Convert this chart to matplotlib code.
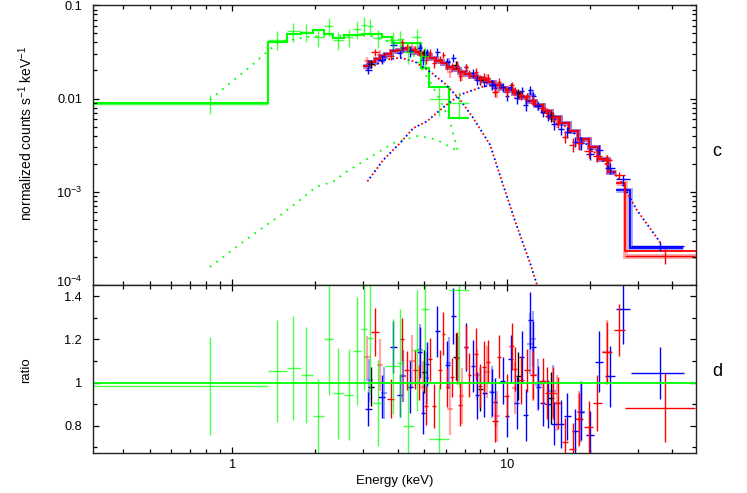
import matplotlib
matplotlib.use("Agg")
import matplotlib.pyplot as plt
import matplotlib.transforms as mtransforms
from matplotlib.ticker import FixedLocator, FixedFormatter, LogLocator, MultipleLocator, NullFormatter

plt.rcParams['font.family'] = ['Liberation Sans', 'DejaVu Sans']
plt.rcParams['mathtext.fontset'] = 'custom'
plt.rcParams['mathtext.rm'] = 'Liberation Sans'
plt.rcParams['mathtext.it'] = 'Liberation Sans'

# ---- soft X-ray instrument (green) ----
g_edges = [0.311, 1.35, 1.575, 1.78, 1.97, 2.16, 2.33, 2.56, 2.97, 3.51, 3.81, 4.86, 5.21, 6.17, 7.29]
g_model = [0.0089, 0.0407, 0.0494, 0.0502, 0.0539, 0.0495, 0.0450, 0.0484, 0.0492, 0.0458, 0.0395, 0.0213, 0.0133, 0.0062]

g_e = [0.829, 1.451, 1.663, 1.855, 2.057, 2.249, 2.432, 2.659, 2.851, 3.024, 3.171, 3.393, 3.84, 4.078, 4.372, 4.692, 5.028, 5.67, 6.70]
g_elo = [0.311, 1.35, 1.575, 1.78, 1.97, 2.16, 2.33, 2.56, 2.76, 2.94, 3.09, 3.25, 3.60, 3.96, 4.18, 4.50, 4.86, 5.21, 6.17]
g_ehi = [1.35, 1.575, 1.78, 1.97, 2.16, 2.33, 2.56, 2.76, 2.94, 3.09, 3.25, 3.52, 4.08, 4.20, 4.58, 4.86, 5.21, 6.17, 7.29]
g_flux = [0.00877, 0.0429, 0.0527, 0.0520, 0.0454, 0.0594, 0.0428, 0.0456, 0.0555, 0.0613, 0.0593, 0.0445,
          0.0425, 0.0431, 0.0316, 0.0454, 0.0285, 0.00984, 0.00887]
g_ferr = [0.00202, 0.0096, 0.0119, 0.0111, 0.0094, 0.0129, 0.0095, 0.0102, 0.0121, 0.0138, 0.0128, 0.0098,
          0.0087, 0.0099, 0.0079, 0.0110, 0.0075, 0.0033, 0.0028]
g_ratio = [0.985, 1.054, 1.067, 1.036, 0.843, 1.20, 0.951, 0.943, 1.147, 1.247, 1.205, 0.905, 1.075, 1.09,
           0.80, 1.15, 1.34, 0.74, 1.43]
g_rerr = [0.227, 0.237, 0.24, 0.222, 0.175, 0.26, 0.21, 0.21, 0.25, 0.28, 0.26, 0.20, 0.22, 0.25, 0.20,
          0.28, 0.35, 0.25, 0.45]

# green model components (dotted)
g_comp1_e = [0.829, 1.160, 1.479, 1.918, 2.466, 3.171, 3.912, 4.436, 4.824, 5.245, 5.703, 6.201, 6.630]
g_comp1_f = [0.00971, 0.02196, 0.0407, 0.0461, 0.0473, 0.0473, 0.0388, 0.0334, 0.0225, 0.01515, 0.00971, 0.00563, 0.00268]
g_comp2_e = [0.829, 1.160, 1.533, 2.029, 2.332, 2.609, 3.355, 3.857, 4.755, 5.548, 6.745]
g_comp2_f = [0.000156, 0.00033, 0.000589, 0.001137, 0.001287, 0.001648, 0.0026, 0.00333, 0.00399, 0.00361, 0.00266]

# ---- hard X-ray instruments (red / blue / black) ----
nu_edges = [3.0, 3.15, 3.3, 3.45, 3.6, 3.78, 3.96, 4.15, 4.35, 4.56, 4.78, 5.0, 5.25, 5.5, 5.78, 6.06, 6.36,
            6.68, 7.0, 7.35, 7.72, 8.1, 8.5, 8.95, 9.4, 9.9, 10.5, 11.1, 11.8, 12.6, 13.5, 14.5, 15.6, 16.8,
            18.2, 19.8, 21.5, 23.3, 25.0]
nu_model = [0.0225, 0.0244, 0.0263, 0.0284, 0.0303, 0.0321, 0.0332, 0.0337, 0.0328, 0.0318, 0.0305, 0.0287,
            0.0270, 0.0255, 0.0239, 0.0220, 0.0205, 0.0193, 0.0183, 0.0174, 0.0165, 0.0157, 0.0149, 0.0140,
            0.0131, 0.0122, 0.0114, 0.0104, 0.00948, 0.00845, 0.0074, 0.00637, 0.00543, 0.00454, 0.00372,
            0.00305, 0.00222, 0.00162]
red_tail_edges = [25.0, 26.9, 48.6]
red_tail_model = [0.00125, 0.000233]
pink_tail_model = [0.00125, 0.000205]
blue_tail_edges = [25.0, 28.0, 43.8]
blue_tail_model = [0.00104, 0.000248]

red_e = [3.31, 3.77, 4.14, 4.31, 4.63, 4.80, 5.06, 5.25, 5.42, 5.70, 5.87, 6.07, 6.29, 6.56, 6.74, 7.09, 7.29,
         7.73, 7.98, 8.25, 8.55, 9.05, 9.38, 9.97, 10.40, 10.67, 11.25, 11.79, 12.40, 13.49, 14.03, 14.67,
         15.38, 16.27, 17.34, 18.34, 19.83, 21.33, 23.20, 25.64, 37.6]
red_xerr = [0.10, 0.12, 0.08, 0.09, 0.10, 0.08, 0.09, 0.09, 0.09, 0.10, 0.09, 0.10, 0.10, 0.12, 0.10, 0.13, 0.10,
            0.14, 0.12, 0.14, 0.15, 0.20, 0.16, 0.22, 0.20, 0.18, 0.28, 0.30, 0.30, 0.40, 0.30, 0.35, 0.40,
            0.45, 0.50, 0.50, 0.70, 0.80, 1.00, 1.20, 10.7]
red_flux = [0.0315, 0.0288, 0.0403, 0.0353, 0.0340, 0.0309, 0.0260, 0.0309, 0.0239, 0.0266, 0.0294, 0.0223,
            0.0220, 0.0226, 0.0176, 0.0216, 0.0186, 0.0191, 0.0161, 0.0170, 0.0167, 0.0117, 0.0152, 0.0118,
            0.0139, 0.01224, 0.01085, 0.01056, 0.00955, 0.00798, 0.0070, 0.0064, 0.00551, 0.00391, 0.00321,
            0.0033, 0.00272, 0.00244, 0.00219, 0.00150, 0.000206]
red_ferr = [0.0028, 0.0028, 0.0034, 0.0030, 0.0029, 0.0025, 0.0026, 0.0028, 0.0027, 0.0023, 0.0024, 0.0021,
            0.0019, 0.0024, 0.0020, 0.0019, 0.0018, 0.0020, 0.0016, 0.0019, 0.0015, 0.0014, 0.0014, 0.0013,
            0.0013, 0.0012, 0.0012, 0.0010, 0.0010, 0.00087, 0.00088, 0.00081, 0.00073, 0.00059, 0.00056,
            0.00048, 0.00041, 0.00035, 0.00027, 0.00014, 0.000037]
red_ratio = [1.233, 0.924, 1.20, 1.056, 1.059, 1.00, 0.892, 1.108, 0.892, 1.059, 1.225, 0.978, 1.025, 1.113,
             0.897, 1.164, 1.035, 1.133, 0.985, 1.071, 1.097, 0.824, 1.12, 0.938, 1.167, 1.062, 1.012, 1.056,
             1.035, 1.005, 0.951, 0.951, 0.907, 0.724, 0.691, 0.83, 0.793, 0.904, 1.139, 1.244, 0.884]
red_rerr = [0.11, 0.09, 0.10, 0.09, 0.09, 0.08, 0.09, 0.10, 0.10, 0.09, 0.10, 0.09, 0.09, 0.12, 0.10, 0.10, 0.10,
            0.12, 0.10, 0.12, 0.10, 0.10, 0.10, 0.10, 0.11, 0.10, 0.11, 0.10, 0.11, 0.11, 0.12, 0.12, 0.12,
            0.11, 0.12, 0.12, 0.12, 0.13, 0.14, 0.12, 0.16]

blue_e = [3.13, 3.50, 3.86, 4.06, 4.44, 4.82, 4.96, 5.10, 5.58, 6.07, 6.38, 6.56, 7.09, 7.50, 7.76, 8.27, 8.80,
          9.05, 9.65, 9.97, 10.31, 10.84, 11.31, 11.69, 12.13, 12.47, 13.00, 13.49, 14.14, 14.87, 15.73,
          16.59, 17.68, 18.60, 20.05, 21.63, 23.71, 26.51, 36.06]
blue_xerr = [0.09, 0.10, 0.10, 0.09, 0.10, 0.10, 0.08, 0.09, 0.12, 0.12, 0.12, 0.10, 0.14, 0.12, 0.13, 0.15,
             0.15, 0.15, 0.20, 0.18, 0.20, 0.25, 0.22, 0.25, 0.25, 0.25, 0.30, 0.30, 0.35, 0.40, 0.40, 0.45,
             0.50, 0.50, 0.70, 0.80, 1.00, 1.50, 7.9]
blue_flux = [0.02037, 0.02623, 0.03724, 0.03106, 0.03224, 0.03504, 0.02565, 0.03132, 0.03191, 0.02464,
             0.02748, 0.02262, 0.02157, 0.01885, 0.01586, 0.01509, 0.01404, 0.01293, 0.01321, 0.01065,
             0.01335, 0.01022, 0.01192, 0.00862, 0.01229, 0.01064, 0.00832, 0.0072, 0.00652, 0.00529,
             0.00469, 0.00438, 0.00343, 0.00334, 0.00255, 0.00281, 0.0018, 0.00137, 0.000259]
blue_ferr = [0.0019, 0.0028, 0.0038, 0.0033, 0.0040, 0.0037, 0.0030, 0.0029, 0.0031, 0.0025, 0.0027, 0.0020,
             0.0020, 0.0021, 0.0019, 0.0017, 0.0016, 0.0016, 0.0014, 0.0013, 0.0013, 0.0014, 0.0013, 0.0012,
             0.0012, 0.0011, 0.00085, 0.00087, 0.0008, 0.00065, 0.00064, 0.00057, 0.00044, 0.0005, 0.00037,
             0.00036, 0.00025, 0.00016, 0.00003]
blue_ratio = [0.877, 0.935, 1.164, 0.94, 0.978, 1.139, 0.861, 1.086, 1.236, 1.083, 1.306, 1.113, 1.164, 1.077,
              0.94, 0.952, 0.954, 0.909, 1.009, 0.846, 1.108, 0.907, 1.12, 0.85, 1.287, 1.164, 0.978, 0.907,
              0.90, 0.81, 0.808, 0.843, 0.776, 0.866, 0.758, 1.097, 1.028, 1.34, 1.043]
blue_rerr = [0.08, 0.10, 0.12, 0.10, 0.12, 0.12, 0.10, 0.10, 0.12, 0.11, 0.13, 0.10, 0.11, 0.12, 0.11, 0.11,
             0.11, 0.11, 0.11, 0.10, 0.11, 0.12, 0.12, 0.12, 0.13, 0.12, 0.10, 0.11, 0.11, 0.10, 0.11, 0.11,
             0.10, 0.13, 0.11, 0.14, 0.14, 0.16, 0.12]

pink_e = [3.10, 3.45, 4.17, 4.50, 4.96, 6.20, 6.84, 7.76, 8.44, 9.17, 10.69, 12.47, 15.16, 18.34, 23.2]
pink_xerr = [0.09, 0.10, 0.10, 0.12, 0.12, 0.14, 0.15, 0.18, 0.2, 0.22, 0.28, 0.35, 0.45, 0.6, 1.0]
pink_flux = [0.02551, 0.02958, 0.03474, 0.036, 0.02919, 0.01928, 0.01808, 0.01749, 0.01622, 0.0118, 0.0112,
             0.00946, 0.00569, 0.0033, 0.00219]
pink_ferr = [0.0023, 0.0033, 0.0040, 0.0039, 0.0036, 0.0026, 0.0025, 0.0020, 0.0019, 0.0017, 0.0014, 0.0011,
             0.0008, 0.0005, 0.0003]
pink_ratio = [1.116, 1.079, 1.03, 1.10, 0.98, 0.877, 0.938, 1.037, 1.05, 0.843, 0.974, 1.035, 0.907, 0.83, 1.139]
pink_rerr = [0.10, 0.12, 0.12, 0.12, 0.12, 0.12, 0.13, 0.12, 0.12, 0.12, 0.12, 0.12, 0.13, 0.13, 0.15]

lblue_e = [3.15, 3.57, 4.17, 4.82, 5.10, 6.13, 8.80, 12.13, 12.47, 13.0, 14.67, 18.6]
lblue_xerr = [0.09, 0.10, 0.10, 0.12, 0.12, 0.14, 0.2, 0.3, 0.3, 0.35, 0.4, 0.6]
lblue_flux = [0.02368, 0.02765, 0.03474, 0.03537, 0.02942, 0.0244, 0.01406, 0.01127, 0.01097, 0.00842, 0.00646, 0.00333]
lblue_ferr = [0.0023, 0.0035, 0.0040, 0.0037, 0.0035, 0.0027, 0.0018, 0.0013, 0.0012, 0.0010, 0.0008, 0.0005]
lblue_ratio = [1.01, 0.95, 1.03, 1.15, 1.02, 1.09, 0.955, 1.18, 1.20, 0.99, 0.96, 0.866]
lblue_rerr = [0.10, 0.12, 0.12, 0.12, 0.12, 0.12, 0.12, 0.14, 0.13, 0.12, 0.12, 0.14]

black_e = [3.20, 5.00, 6.50, 8.00, 11.0, 14.5]
black_xerr = [0.08, 0.10, 0.12, 0.15, 0.25, 0.35]
black_flux = [0.0236, 0.031, 0.0230, 0.01584, 0.0114, 0.0064]
black_ferr = [0.0022, 0.0030, 0.0022, 0.0017, 0.0012, 0.0008]
black_ratio = [0.98, 1.05, 1.12, 0.97, 1.03, 0.93]
black_rerr = [0.09, 0.10, 0.11, 0.10, 0.11, 0.12]

# dotted components for red/blue
compA_e = [3.101, 3.546, 4.078, 4.560, 5.10, 5.897, 6.745, 8.198, 9.43, 10.85, 13.2, 15.59, 18.44, 21.8, 25.78, 29.66, 36.27]
compA_f = [0.00129, 0.0022, 0.00333, 0.00482, 0.00568, 0.00817, 0.01099, 0.01349, 0.01406, 0.01183, 0.00758,
           0.00553, 0.0038, 0.00231, 0.00134, 0.000639, 0.000281]
compB_e = [3.093, 3.596, 4.078, 4.626, 5.245, 5.947, 6.745, 7.52, 8.672, 9.67, 10.72, 12.13, 12.86]
compB_f = [0.0204, 0.0261, 0.0274, 0.0248, 0.0194, 0.01442, 0.00971, 0.00622, 0.00319, 0.00119, 0.000475,
           0.000172, 0.0001]

GREEN = '#00ff00'
RED = '#ff0000'
BLUE = '#0000ff'
dots = (0, (1, 3.4))
dots2 = (2.2, (1, 3.4))

fig = plt.figure(figsize=(7.47, 4.93), dpi=100)
ax = fig.add_axes([0.1245, 0.4219, 0.8068, 0.5673])
axr = fig.add_axes([0.1245, 0.0811, 0.8068, 0.3408], sharex=ax)


def xe(e, lo, hi):
    return [[a - b for a, b in zip(e, lo)], [c - a for a, c in zip(e, hi)]]


# --- upper panel ---
ax.plot(g_comp1_e, g_comp1_f, color=GREEN, lw=1.3, ls=dots)
ax.plot(g_comp2_e, g_comp2_f, color=GREEN, lw=1.3, ls=dots)
for c, ls in [(RED, dots), (BLUE, dots2)]:
    ax.plot(compA_e, compA_f, color=c, lw=1.3, ls=ls)
    ax.plot(compB_e, compB_f, color=c, lw=1.3, ls=ls)

ax.stairs(nu_model, nu_edges, color=RED, alpha=0.35, lw=3.5, baseline=None)
ax.stairs(pink_tail_model, red_tail_edges, color=RED, alpha=0.35, lw=3.5, baseline=None)
ax.stairs(nu_model, nu_edges, color=BLUE, alpha=0.35, lw=3.5, baseline=None)
ax.stairs(blue_tail_model, blue_tail_edges, color=BLUE, alpha=0.35, lw=3.5, baseline=None)

ax.errorbar(pink_e, pink_flux, xerr=pink_xerr, yerr=pink_ferr, fmt='none', ecolor=RED, alpha=0.35, elinewidth=1.6)
ax.errorbar(lblue_e, lblue_flux, xerr=lblue_xerr, yerr=lblue_ferr, fmt='none', ecolor=BLUE, alpha=0.35, elinewidth=1.6)

ax.stairs(nu_model, nu_edges, color='black', lw=1.3, baseline=None)
ax.stairs(nu_model, nu_edges, color=BLUE, lw=1.3, baseline=None)
ax.stairs(blue_tail_model, blue_tail_edges, color=BLUE, lw=1.3, baseline=None)
ax.stairs(nu_model, nu_edges, color=RED, lw=1.3, baseline=None)
ax.stairs(red_tail_model, red_tail_edges, color=RED, lw=1.3, baseline=None)

ax.errorbar(black_e, black_flux, xerr=black_xerr, yerr=black_ferr, fmt='none', ecolor='black', elinewidth=1)
ax.errorbar(blue_e, blue_flux, xerr=blue_xerr, yerr=blue_ferr, fmt='none', ecolor=BLUE, elinewidth=1)
ax.errorbar(red_e, red_flux, xerr=red_xerr, yerr=red_ferr, fmt='none', ecolor=RED, elinewidth=1)

ax.stairs(g_model, g_edges, color=GREEN, lw=1.5, baseline=None)
ax.errorbar(g_e, g_flux, xerr=xe(g_e, g_elo, g_ehi), yerr=g_ferr, fmt='none', ecolor=GREEN, alpha=0.7, elinewidth=1)

ax.set_xscale('log')
ax.set_yscale('log')
ax.set_xlim(0.311, 48.6)
ax.set_ylim(1e-4, 0.1)
ax.yaxis.set_major_locator(FixedLocator([1e-4, 1e-3, 1e-2, 1e-1]))
ax.yaxis.set_major_formatter(FixedFormatter(['10$^{-4}$', '10$^{-3}$', '0.01', '0.1']))
ax.yaxis.set_minor_locator(LogLocator(base=10, subs=range(2, 10)))
ax.yaxis.set_minor_formatter(NullFormatter())
ax.tick_params(axis='x', labelbottom=False)

# --- ratio panel ---
axr.errorbar(pink_e, pink_ratio, xerr=pink_xerr, yerr=pink_rerr, fmt='none', ecolor=RED, alpha=0.35, elinewidth=1.6)
axr.errorbar(lblue_e, lblue_ratio, xerr=lblue_xerr, yerr=lblue_rerr, fmt='none', ecolor=BLUE, alpha=0.35, elinewidth=1.6)
axr.errorbar(black_e, black_ratio, xerr=black_xerr, yerr=black_rerr, fmt='none', ecolor='black', elinewidth=1)
axr.errorbar(blue_e, blue_ratio, xerr=blue_xerr, yerr=blue_rerr, fmt='none', ecolor=BLUE, elinewidth=1)
axr.errorbar(red_e, red_ratio, xerr=red_xerr, yerr=red_rerr, fmt='none', ecolor=RED, elinewidth=1)
axr.errorbar(g_e, g_ratio, xerr=xe(g_e, g_elo, g_ehi), yerr=g_rerr, fmt='none', ecolor=GREEN, alpha=0.7, elinewidth=1)
axr.axhline(1.0, color=GREEN, lw=1.3)

axr.set_ylim(0.674, 1.451)
axr.yaxis.set_major_locator(FixedLocator([0.8, 1.0, 1.2, 1.4]))
axr.yaxis.set_major_formatter(FixedFormatter(['0.8', '1', '1.2', '1.4']))
axr.yaxis.set_minor_locator(MultipleLocator(0.1))
axr.xaxis.set_major_locator(FixedLocator([1, 10]))
axr.xaxis.set_major_formatter(FixedFormatter(['1', '10']))
axr.xaxis.set_minor_locator(LogLocator(base=10, subs=range(2, 10)))
axr.xaxis.set_minor_formatter(NullFormatter())
axr.set_xlabel('Energy (keV)', fontsize=9.5, labelpad=3)

for a in (ax, axr):
    a.tick_params(which='both', direction='in', top=True, right=True, labelsize=9.2, width=0.9, colors='black')
    a.tick_params(which='major', length=4.5)
    a.tick_params(which='minor', length=2.6)
    a.tick_params(axis='y', which='major', pad=8)
    a.tick_params(axis='x', which='major', pad=4)
    for s in a.spines.values():
        s.set_linewidth(1.0)
        s.set_color('#222222')

# lift the lowest label of the upper panel a little, as in the original
fig.canvas.draw()
lift = mtransforms.ScaledTranslation(0, 3 / 72, fig.dpi_scale_trans)
ylabels = ax.get_yticklabels()
ylabels[0].set_transform(ylabels[0].get_transform() + lift)

fig.text(26 / 747, 1 - 133 / 493, 'normalized counts s$^{-1}$ keV$^{-1}$', rotation=90,
         ha='center', va='center', fontsize=10)
fig.text(26 / 747, 1 - 370 / 493, 'ratio', rotation=90, ha='center', va='center', fontsize=9.5)
fig.text(717 / 747, 1 - 152 / 493, 'c', ha='center', va='center', fontsize=13)
fig.text(717 / 747, 1 - 371 / 493, 'd', ha='center', va='center', fontsize=13)

fig.savefig('out.png', dpi=100)
